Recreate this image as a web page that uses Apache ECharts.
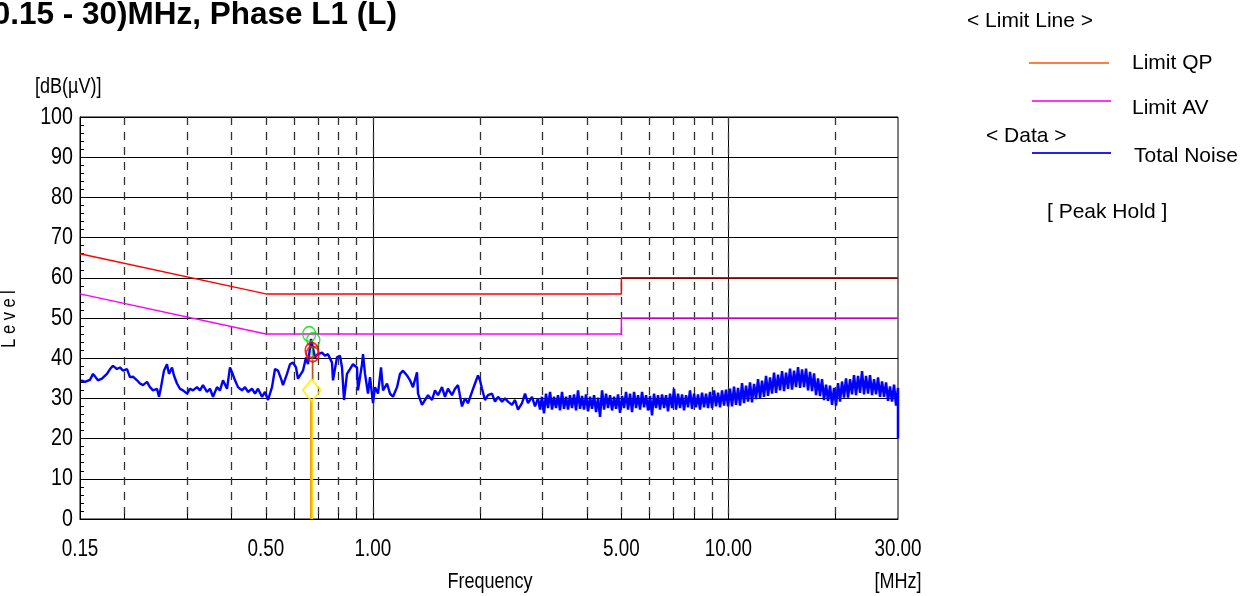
<!DOCTYPE html>
<html><head><meta charset="utf-8">
<script src="https://cdn.jsdelivr.net/npm/echarts@6/dist/echarts.min.js"></script>
<style>html,body{margin:0;padding:0;background:#fff;}#c{width:1259px;height:596px;}</style>
</head><body><div id="c"></div>
<script>
const SANS = '"Liberation Sans",Arial,sans-serif';
const NARROW_SCALE = 0.82;

// ---- data ----
const titleText = '(0.15 - 30)MHz, Phase L1 (L)';
const xLabelValues = [0.15, 0.5, 1, 5, 10, 30];
const yLabelValues = [0, 10, 20, 30, 40, 50, 60, 70, 80, 90, 100];
const xSolidGrid = [1, 10];
const xDashedGrid = [0.2, 0.3, 0.4, 0.5, 0.6, 0.7, 0.8, 0.9, 2, 3, 4, 5, 6, 7, 8, 9, 20];
const yMin = 0, yMax = 100, yStep = 10;

const limitQP = [[0.15, 66], [0.5, 56], [5, 56], [5, 60], [30, 60]];
const limitAV = [[0.15, 56], [0.5, 46], [5, 46], [5, 50], [30, 50]];

const noiseLow = [
 [0.1510,34.5],[0.1549,34.1],[0.1600,34.6],[0.1632,36.1],[0.1685,34.5],[0.1729,34.9],[0.1786,36.1],
 [0.1822,37.3],[0.1857,38.1],[0.1906,37.3],[0.1943,37.7],[0.1982,36.9],[0.2034,37.3],[0.2073,35.3],
 [0.2114,35.4],[0.2170,34.5],[0.2212,33.7],[0.2256,33.3],[0.2315,34.1],[0.2360,32.8],[0.2407,32.0],
 [0.2470,32.4],[0.2502,30.4],[0.2535,32.8],[0.2584,36.9],[0.2635,38.5],[0.2669,36.1],[0.2722,37.7],
 [0.2757,35.7],[0.2811,33.7],[0.2866,32.4],[0.2923,32.0],[0.3000,31.2],[0.3058,32.4],[0.3118,32.0],
 [0.3200,32.8],[0.3263,32.0],[0.3327,33.3],[0.3414,31.6],[0.3481,32.4],[0.3550,30.4],[0.3643,32.8],
 [0.3714,32.0],[0.3787,34.5],[0.3887,32.4],[0.3963,37.7],[0.4015,36.5],[0.4094,34.5],[0.4174,32.8],
 [0.4283,32.0],[0.4368,32.8],[0.4453,31.6],[0.4570,32.4],[0.4660,31.2],[0.4751,32.4],[0.4876,30.4],
 [0.4972,31.6],[0.5069,29.6],[0.5202,32.8],[0.5304,37.3],[0.5408,36.9],[0.5515,34.9],[0.5586,33.3],
 [0.5733,36.1],[0.5845,38.5],[0.5960,38.9],[0.6077,37.7],[0.6156,34.9],[0.6236,34.5],[0.6359,36.9],
 [0.6484,40.2],[0.6568,38.5],[0.6697,44.8],[0.6873,40.2],[0.7008,41.0],[0.7192,41.4],[0.7333,40.6],
 [0.7476,41.0],[0.7673,38.9],[0.7723,34.5],[0.7925,40.2],[0.8081,40.6],[0.8186,37.7],[0.8293,29.6],
 [0.8455,36.1],[0.8621,37.3],[0.8791,38.5],[0.9022,37.7],[0.9080,32.0],[0.9319,38.5],[0.9380,41.0],
 [0.9502,36.1],[0.9688,31.2],[0.9815,35.3],[1.0007,28.8],[1.0138,32.8],[1.0337,31.2],[1.0540,37.7],
 [1.0677,32.0],[1.0957,33.7],[1.1172,31.2],[1.1392,30.4],[1.1691,32.8],[1.1920,36.1],[1.2154,36.9],
 [1.2473,35.7],[1.2718,34.5],[1.2967,32.8],[1.3307,36.5],[1.3394,31.2],[1.3745,28.4],[1.4015,29.6],
 [1.4290,30.8],[1.4665,29.6],[1.4951,32.0],[1.5245,30.8],[1.5645,32.8],[1.5951,30.4],[1.6264,32.4],
 [1.6691,30.8],[1.7019,32.4],[1.7353,33.3],[1.7808,28.0],[1.8158,30.0],[1.8515,28.8],[1.9000,31.6],
 [1.9373,33.7],[1.9753,35.7],[2.0010,34.5],[2.0271,32.4],[2.0669,29.6],[2.1075,30.8],[2.1628,31.2],
 [2.2053,29.2],[2.2486,30.4],[2.3077,29.2],[2.3530,30.0],[2.3992,29.2],[2.4622,28.4],[2.5105,29.6],
 [2.5598,27.2],[2.6270,28.8],[2.6786,31.2],[2.7312,28.8],[2.8029,30.4],[2.8579,28.0],[2.914,30.0]
];
const noiseHigh = [
 [2.914,30.0],[2.952,27.2],[2.990,30.4],[3.029,26.3],[3.069,31.2],[3.109,27.6],[3.150,31.6],[3.191,27.2],
 [3.232,30.4],[3.274,27.6],[3.317,30.8],[3.360,27.0],[3.404,31.6],[3.448,27.4],[3.494,30.4],[3.540,27.2],
 [3.585,30.8],[3.632,27.6],[3.680,31.0],[3.728,27.0],[3.776,32.0],[3.825,27.4],[3.875,30.6],[3.926,27.2],
 [3.977,31.0],[4.029,26.8],[4.082,30.4],[4.135,27.4],[4.189,30.8],[4.244,26.6],[4.299,30.2],[4.355,25.4],
 [4.412,32.0],[4.470,27.2],[4.527,31.2],[4.586,27.6],[4.646,30.8],[4.707,27.0],[4.768,30.4],[4.830,27.4],
 [4.893,31.0],[4.957,26.4],[5.022,30.6],[5.087,27.6],[5.153,31.6],[5.220,27.2],[5.289,31.2],[5.358,26.6],
 [5.428,31.6],[5.499,27.6],[5.570,30.8],[5.643,27.2],[5.716,31.6],[5.791,27.8],[5.866,30.8],[5.942,27.0],
 [6.020,30.6],[6.098,25.8],[6.178,31.2],[6.259,27.6],[6.340,30.8],[6.423,27.2],[6.507,31.0],[6.592,27.6],
 [6.677,30.8],[6.764,26.8],[6.853,31.2],[6.942,27.6],[7.033,32.4],[7.125,27.2],[7.217,31.2],[7.311,27.6],
 [7.407,31.0],[7.504,27.0],[7.601,30.8],[7.700,27.8],[7.800,32.0],[7.902,27.4],[8.005,31.2],[8.109,27.8],
 [8.215,31.0],[8.322,27.2],[8.431,31.4],[8.541,27.8],[8.652,31.2],[8.765,27.6],[8.879,31.6],[8.995,27.6],
 [9.112,32.0],[9.231,28.0],[9.351,31.4],[9.473,27.8],[9.597,32.0],[9.722,28.2],[9.849,32.2],[9.977,28.0],
 [10.107,32.4],[10.239,28.0],[10.372,32.9],[10.507,28.4],[10.645,32.6],[10.784,28.2],[10.924,33.8],[11.066,28.8],
 [11.211,33.2],[11.357,29.2],[11.505,34.0],[11.655,29.0],[11.807,33.6],[11.961,29.8],[12.117,34.8],[12.275,30.0],
 [12.435,34.4],[12.597,30.4],[12.762,35.6],[12.928,30.6],[13.097,35.2],[13.268,31.2],[13.441,36.4],[13.616,31.4],
 [13.793,35.9],[13.973,32.0],[14.155,36.8],[14.340,31.8],[14.527,36.4],[14.716,32.4],[14.908,37.4],[15.102,32.2],
 [15.299,36.9],[15.499,32.8],[15.701,37.8],[15.906,32.6],[16.113,37.2],[16.323,32.8],[16.536,37.4],[16.752,32.0],
 [16.970,36.6],[17.191,31.8],[17.415,36.2],[17.642,30.8],[17.872,35.0],[18.105,30.6],[18.341,34.8],[18.580,29.6],
 [18.823,33.4],[19.068,29.4],[19.317,33.2],[19.569,28.4],[19.824,32.6],[20.082,28.2],[20.344,33.8],[20.609,29.2],
 [20.878,34.2],[21.150,30.2],[21.426,35.0],[21.705,30.2],[21.988,34.8],[22.275,31.0],[22.566,35.8],[22.860,30.8],
 [23.158,35.6],[23.460,31.4],[23.766,36.8],[24.075,31.0],[24.389,35.6],[24.707,31.2],[25.030,35.8],[25.356,30.8],
 [25.687,34.8],[26.021,31.0],[26.361,35.2],[26.704,30.4],[27.053,34.2],[27.406,30.4],[27.763,34.0],[28.125,29.4],
 [28.491,33.0],[28.863,29.2],[29.239,33.4],[29.621,28.2],[30.0,32.6],[30.0,20.0]
];
const qpPeakMarks = [[0.662, 46.0], [0.680, 44.5]];
const qpLevelMarks = [[0.673, 42.0], [0.677, 41.0]];
const avLevelMarks = [[0.673, 32.0]];
const avStemOrange = [[0.671, 0], [0.671, 29.6]];
const avStemYellow = [[0.675, 0], [0.675, 29.6]];
const qpStemRed = [[0.678, 34.6], [0.678, 39.5]];
const qpStemGreen = [[0.675, 34.6], [0.675, 43.0]];

const chart = echarts.init(document.getElementById('c'), null, {renderer: 'canvas'});

function fmtX(v) { return Number(v).toFixed(2); }

const option = {
  animation: false,
  backgroundColor: '#fff',
  grid: {left: 80, right: 361, top: 117, bottom: 77, show: true, borderColor: '#000', borderWidth: 1, containLabel: false},
  xAxis: [
    {
      type: 'log', logBase: 10, min: 0.15, max: 30, position: 'bottom',
      axisLine: {show: true, onZero: false, lineStyle: {color: '#000', width: 1}},
      axisTick: {show: false, customValues: xSolidGrid},
      splitLine: {show: true, lineStyle: {color: '#000', width: 1, type: 'solid'}},
      minorTick: {show: false}, minorSplitLine: {show: false},
      axisLabel: {show: false}
    },
    {
      type: 'log', logBase: 10, min: 0.15, max: 30, position: 'bottom', offset: 0,
      axisLine: {show: false},
      axisTick: {show: true, inside: true, length: 5, customValues: xDashedGrid.concat(xSolidGrid),
        lineStyle: {color: '#000', width: 1}},
      splitLine: {show: true, lineStyle: {color: '#333', width: 1.3, type: [8, 7]}},
      axisLabel: {show: false}
    }
  ],
  yAxis: {
    type: 'value', min: yMin, max: yMax, interval: yStep,
    axisLine: {show: true, lineStyle: {color: '#000', width: 1}},
    axisTick: {show: true, inside: true, length: 5, lineStyle: {color: '#000'}},
    minorTick: {show: true, splitNumber: 5, length: 4, lineStyle: {color: '#000'}},
    splitLine: {show: true, lineStyle: {color: '#000', width: 1}},
    axisLabel: {show: false}
  },
  series: [
    {name: 'Total Noise', type: 'line', data: noiseLow, showSymbol: false, symbol: 'none',
      lineStyle: {color: '#0000ff', width: 2.4}, zlevel: 1, z: 3},
    {name: 'Total Noise', type: 'line', data: noiseHigh, showSymbol: false, symbol: 'none',
      lineStyle: {color: '#0000ff', width: 2.5}, zlevel: 1, z: 3},
    {name: 'Limit QP', type: 'line', data: limitQP, showSymbol: false, symbol: 'none',
      lineStyle: {color: '#ff0000', width: 1.5}, zlevel: 1, z: 4},
    {name: 'Limit AV', type: 'line', data: limitAV, showSymbol: false, symbol: 'none',
      lineStyle: {color: '#ff00ff', width: 1.5}, zlevel: 1, z: 4},
    {type: 'line', data: avStemOrange, symbol: 'none', lineStyle: {color: '#f0a000', width: 2.5}, zlevel: 1, z: 5},
    {type: 'line', data: avStemYellow, symbol: 'none', lineStyle: {color: '#ffe000', width: 1.2}, zlevel: 1, z: 5},
    {type: 'line', data: qpStemGreen, symbol: 'none', lineStyle: {color: '#00d000', width: 1}, zlevel: 1, z: 5},
    {type: 'line', data: qpStemRed, symbol: 'none', lineStyle: {color: '#ff0000', width: 1}, zlevel: 1, z: 5},
    {type: 'scatter', data: qpPeakMarks, symbol: 'circle', symbolSize: [13, 15],
      itemStyle: {color: 'rgba(0,0,0,0)', borderColor: '#00e000', borderWidth: 1.5}, zlevel: 1, z: 6},
    {type: 'scatter', data: qpLevelMarks, symbol: 'circle', symbolSize: [13, 15],
      itemStyle: {color: 'rgba(0,0,0,0)', borderColor: '#ff0000', borderWidth: 1.8}, zlevel: 1, z: 7},
    {type: 'scatter', data: avLevelMarks, symbol: 'diamond', symbolSize: [18, 22],
      itemStyle: {color: 'rgba(0,0,0,0)', borderColor: '#ffee00', borderWidth: 2}, zlevel: 1, z: 7}
  ]
};
chart.setOption(option);

// Tick labels placed through the chart's own axis scales (narrow look via horizontal scale)
const leftPx = chart.convertToPixel({gridIndex: 0}, [0.15, 0])[0];
const bottomPx = chart.convertToPixel({gridIndex: 0}, [0.15, 0])[1];
const labelGraphics = [];
xLabelValues.forEach(v => {
  labelGraphics.push({type: 'text', x: chart.convertToPixel({xAxisIndex: 0}, v), y: bottomPx + 31, scaleX: NARROW_SCALE,
    style: {text: fmtX(v), align: 'center', verticalAlign: 'middle', fontFamily: SANS, fontSize: 23, fill: '#000'}});
});
yLabelValues.forEach(v => {
  labelGraphics.push({type: 'text', x: leftPx - 7, y: chart.convertToPixel({yAxisIndex: 0}, v), scaleX: NARROW_SCALE,
    style: {text: String(v), align: 'right', verticalAlign: 'middle', fontFamily: SANS, fontSize: 24, fill: '#000'}});
});

const staticGraphics = [
  {type: 'text', x: 397, y: 15, style: {text: titleText, align: 'right', verticalAlign: 'middle',
    fontFamily: SANS, fontWeight: 'bold', fontSize: 31.5, fill: '#000'}},
  {type: 'text', x: 35, y: 87, scaleX: NARROW_SCALE, style: {text: '[dB(µV)]', align: 'left', verticalAlign: 'middle',
    fontFamily: SANS, fontSize: 22, fill: '#000'}},
  {type: 'text', x: 9, y: 319, rotation: Math.PI / 2, scaleX: NARROW_SCALE, style: {text: 'L e v e l', align: 'center', verticalAlign: 'middle',
    fontFamily: SANS, fontSize: 20, fill: '#000'}},
  {type: 'text', x: 490, y: 582, scaleX: NARROW_SCALE, style: {text: 'Frequency', align: 'center', verticalAlign: 'middle',
    fontFamily: SANS, fontSize: 22, fill: '#000'}},
  {type: 'text', x: 898, y: 582, scaleX: NARROW_SCALE, style: {text: '[MHz]', align: 'center', verticalAlign: 'middle',
    fontFamily: SANS, fontSize: 22, fill: '#000'}},
  {type: 'text', x: 967, y: 21, style: {text: '< Limit Line >', align: 'left', verticalAlign: 'middle',
    fontFamily: SANS, fontSize: 21, fill: '#000'}},
  {type: 'line', shape: {x1: 1029, y1: 63, x2: 1109, y2: 63}, style: {stroke: '#ff7f3f', lineWidth: 2}},
  {type: 'text', x: 1132, y: 63, style: {text: 'Limit QP', align: 'left', verticalAlign: 'middle',
    fontFamily: SANS, fontSize: 21, fill: '#000'}},
  {type: 'line', shape: {x1: 1032, y1: 101, x2: 1111, y2: 101}, style: {stroke: '#ff33ff', lineWidth: 2}},
  {type: 'text', x: 1132, y: 108, style: {text: 'Limit AV', align: 'left', verticalAlign: 'middle',
    fontFamily: SANS, fontSize: 21, fill: '#000'}},
  {type: 'text', x: 986, y: 136, style: {text: '< Data >', align: 'left', verticalAlign: 'middle',
    fontFamily: SANS, fontSize: 21, fill: '#000'}},
  {type: 'line', shape: {x1: 1032, y1: 153, x2: 1111, y2: 153}, style: {stroke: '#2020ff', lineWidth: 2}},
  {type: 'text', x: 1134, y: 156, style: {text: 'Total Noise', align: 'left', verticalAlign: 'middle',
    fontFamily: SANS, fontSize: 21, fill: '#000'}},
  {type: 'text', x: 1047, y: 212, style: {text: '[ Peak Hold ]', align: 'left', verticalAlign: 'middle',
    fontFamily: SANS, fontSize: 21, fill: '#000'}}
];
chart.setOption({graphic: staticGraphics.concat(labelGraphics)});
</script>
</body></html>
